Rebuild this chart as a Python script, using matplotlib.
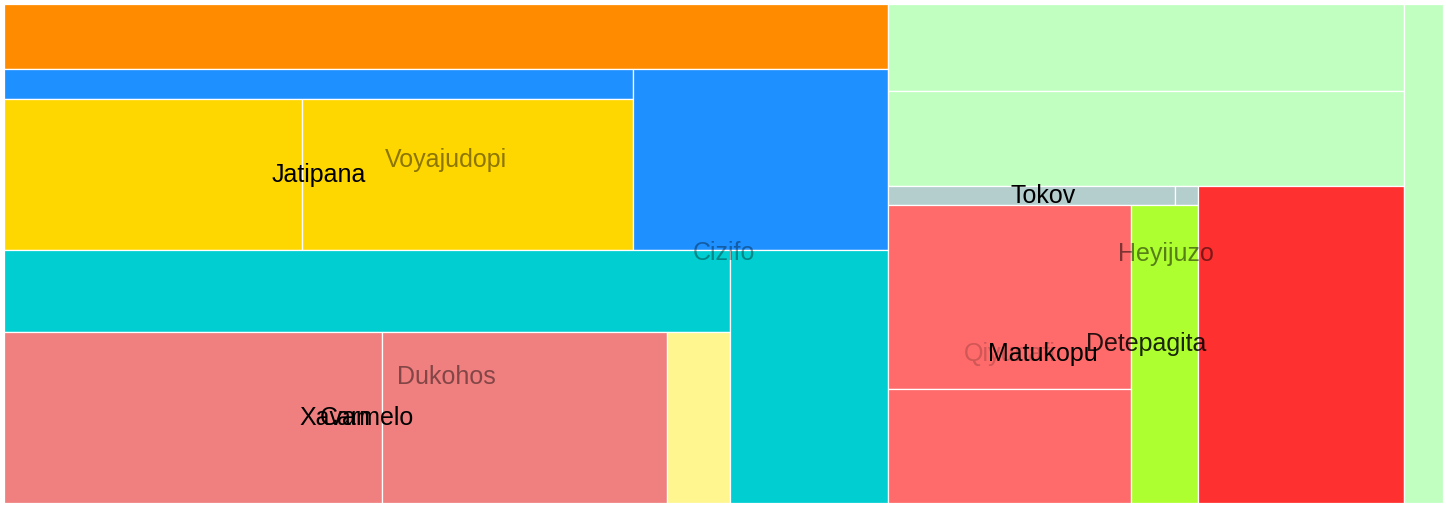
import matplotlib
matplotlib.use("Agg")
import matplotlib.pyplot as plt
from matplotlib.patches import Rectangle

plt.rcParams['font.family'] = ['Liberation Sans', 'DejaVu Sans']

# leaf values (one per tile) and their fill colours
leaf_values = [57.7, 18.7, 45.1, 50.1, 46.2, 59.6, 64.6, 48.5, 10.9, 39.9,
               19.8, 45.0, 48.7, 5.6, 0.45, 44.6, 27.7, 19.9, 65.3]
leaf_colors = ['#FF8C00', '#1E90FF', '#FFD700', '#FFD700', '#1E90FF',
               '#00CED1', '#F08080', '#F08080', '#FFF68F', '#00CED1',
               '#C1FFC1', '#C1FFC1', '#C1FFC1', '#B4CDCD', '#B4CDCD',
               '#FF6A6A', '#FF6A6A', '#ADFF2F', '#FF3030']

# hierarchy: (name, split direction, children); ints are leaf indices
tree = ("Cizifo", "x", [
    (None, "y", [
        0,
        ("Voyajudopi", "x", [(None, "y", [1, ("Jatipana", "x", [2, 3])]), 4]),
        ("Dukohos", "x", [(None, "y", [5, ("Carmelo", "x", [("Xavan", "x", [6, 7]), 8])]), 9]),
    ]),
    ("Heyijuzo", "x", [
        (None, "y", [11, 12, ("Detepagita", "x", [
            (None, "y", [("Tokov", "x", [13, 14]),
                         ("Matukopu", "x", [("Qiyunafi", "y", [15, 16]), 17])]),
            18])]),
        10]),
])

# how strongly each node label is drawn
label_alpha = {"Cizifo": 0.35, "Voyajudopi": 0.45, "Dukohos": 0.45, "Heyijuzo": 0.5,
               "Qiyunafi": 0.18, "Detepagita": 0.85}


def total(node):
    if isinstance(node, int):
        return leaf_values[node]
    return sum(total(c) for c in node[2])


def layout(node, x, y, w, h, rects, labels):
    if isinstance(node, int):
        rects.append((node, x, y, w, h))
        return
    name, d, kids = node
    s = total(node)
    pos = 0.0
    for k in kids:
        f = total(k) / s
        if d == "x":
            layout(k, x + pos * w, y, f * w, h, rects, labels)
        else:
            layout(k, x, y + pos * h, w, f * h, rects, labels)
        pos += f
    if name:
        labels.append((name, x + w / 2, y + h / 2))


rects, labels = [], []
layout(tree, 0, 0, 1, 1, rects, labels)

fig = plt.figure(figsize=(14.46, 5.07), dpi=100)
ax = fig.add_axes([4 / 1446, 4 / 507, 1439.5 / 1446, 499 / 507])
for i, x, y, w, h in rects:
    ax.add_patch(Rectangle((x, y), w, h, facecolor=leaf_colors[i],
                           edgecolor='white', linewidth=0.9))

# outer (root-first) labels are drawn first, deeper ones on top
for name, cx, cy in labels[::-1]:
    ax.text(cx, cy, name, ha='center', va='center', fontsize=18,
            color='black', alpha=label_alpha.get(name, 1.0))

ax.set_xlim(0, 1)
ax.set_ylim(1, 0)
ax.axis('off')
fig.savefig('out.png', dpi=100)
